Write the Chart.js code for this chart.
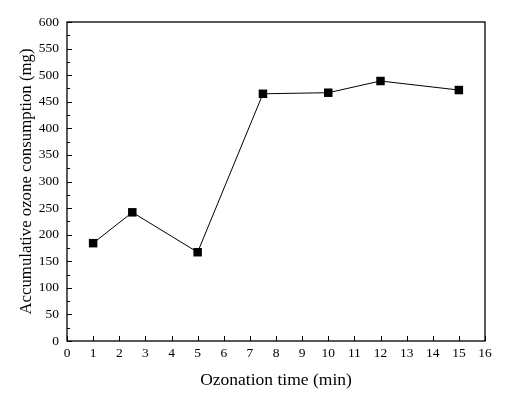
<!DOCTYPE html>
<html>
<head>
<meta charset="utf-8">
<script src="https://cdn.jsdelivr.net/npm/chart.js@4"></script>
<style>
  html, body { margin: 0; padding: 0; background: #fff; }
  #wrap { width: 511px; height: 405px; }
</style>
</head>
<body>
<div id="wrap"><canvas id="ozoneChart"></canvas></div>
<script>
// ozonation time (min) vs accumulated ozone consumed (mg)
var times = [1, 2.5, 5, 7.5, 10, 12, 15];
var ozone = [184, 242, 167, 465, 467, 489, 472];
var xTicks = [0, 1, 2, 3, 4, 5, 6, 7, 8, 9, 10, 11, 12, 13, 14, 15, 16];
var yTicks = [0, 50, 100, 150, 200, 250, 300, 350, 400, 450, 500, 550, 600];
var yMinorTicks = [25, 75, 125, 175, 225, 275, 325, 375, 425, 475, 525, 575];

var serif = "'Liberation Serif', 'Times New Roman', serif";

// box round the plot area, with ticks pointing inward
var framePlugin = {
    id: 'frame',
    afterDraw: function (chart) {
        var ctx = chart.ctx;
        var a = chart.chartArea;
        var xs = chart.scales.x, ys = chart.scales.y;
        ctx.save();
        ctx.strokeStyle = '#000';
        ctx.lineWidth = 1.3;
        ctx.strokeRect(a.left, a.top, a.right - a.left, a.bottom - a.top);
        ctx.lineWidth = 1;
        ctx.beginPath();
        xTicks.forEach(function (v) {
            var px = Math.round(xs.getPixelForValue(v)) + 0.5;
            ctx.moveTo(px, a.bottom);
            ctx.lineTo(px, a.bottom - 5);
        });
        yTicks.forEach(function (v) {
            var py = Math.round(ys.getPixelForValue(v)) + 0.5;
            ctx.moveTo(a.left, py);
            ctx.lineTo(a.left + 5, py);
        });
        yMinorTicks.forEach(function (v) {
            var py = Math.round(ys.getPixelForValue(v)) + 0.5;
            ctx.moveTo(a.left, py);
            ctx.lineTo(a.left + 3, py);
        });
        ctx.stroke();
        ctx.restore();
    }
};

document.addEventListener('DOMContentLoaded', function () {
    var ctx = document.getElementById('ozoneChart').getContext('2d');
    var ozoneChart = new Chart(ctx, {
        type: 'line',
        data: {
            datasets: [{
                data: times.map(function (t, i) { return { x: t, y: ozone[i] }; }),
                borderColor: '#000',
                borderWidth: 1,
                backgroundColor: '#000',
                pointStyle: 'rect',
                pointRadius: 6,
                pointBorderWidth: 0,
                pointBackgroundColor: '#000',
                fill: false,
                tension: 0
            }]
        },
        options: {
            responsive: true,
            maintainAspectRatio: false,
            animation: false,
            layout: { padding: { top: 22, right: 26, left: 0, bottom: 0 } },
            plugins: {
                legend: { display: false },
                tooltip: { enabled: false }
            },
            scales: {
                x: {
                    type: 'linear',
                    min: 0,
                    max: 16,
                    afterFit: function (s) { s.height = 64; },
                    afterBuildTicks: function (s) {
                        s.ticks = xTicks.map(function (v) { return { value: v }; });
                    },
                    grid: { display: false, drawTicks: false },
                    border: { display: false },
                    ticks: {
                        color: '#000',
                        padding: 4,
                        maxRotation: 0,
                        autoSkip: false,
                        font: { family: serif, size: 13.5 }
                    },
                    title: {
                        display: true,
                        text: 'Ozonation time (min)',
                        color: '#000',
                        padding: { top: 0, bottom: 14 },
                        font: { family: serif, size: 17.5 }
                    }
                },
                y: {
                    min: 0,
                    max: 600,
                    afterFit: function (s) { s.width = 67; },
                    afterBuildTicks: function (s) {
                        s.ticks = yTicks.map(function (v) { return { value: v }; });
                    },
                    grid: { display: false, drawTicks: false },
                    border: { display: false },
                    ticks: {
                        color: '#000',
                        padding: 8,
                        autoSkip: false,
                        font: { family: serif, size: 13.5 }
                    },
                    title: {
                        display: true,
                        text: 'Accumulative ozone consumption (mg)',
                        color: '#000',
                        padding: { top: 17, bottom: 0 },
                        font: { family: serif, size: 16.8 }
                    }
                }
            }
        },
        plugins: [framePlugin]
    });
});
</script>
</body>
</html>
